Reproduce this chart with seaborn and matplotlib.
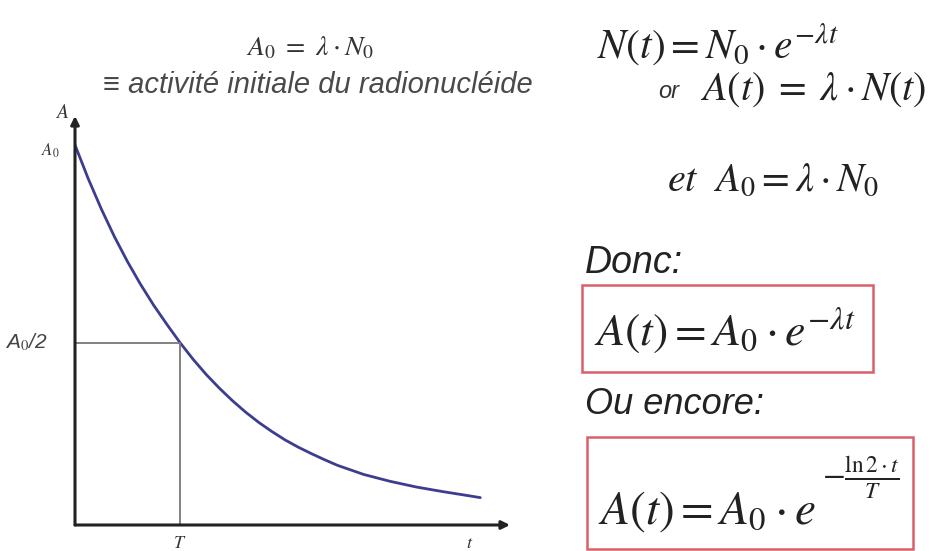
import matplotlib
matplotlib.use("Agg")
import matplotlib.pyplot as plt
from matplotlib.patches import Rectangle
import seaborn as sns

# decay curve (t in units of T, A in units of A0)
t_vals = [0, 0.125, 0.25, 0.375, 0.5, 0.625, 0.75, 0.875, 1.0, 1.125, 1.25, 1.375, 1.5,
          1.625, 1.75, 1.875, 2.0, 2.125, 2.25, 2.375, 2.5, 2.75, 3.0, 3.25, 3.5, 3.75, 3.86]
a_vals = [1.0, 0.912, 0.832, 0.759, 0.693, 0.633, 0.578, 0.528, 0.48, 0.436, 0.396, 0.36, 0.327,
          0.297, 0.27, 0.246, 0.224, 0.205, 0.188, 0.172, 0.157, 0.133, 0.115, 0.1, 0.088, 0.077, 0.072]
half_T = 1.0
half_A = 0.48

W, H = 942, 551

sns.set_style("white")
plt.rcParams['font.family'] = ['Liberation Sans', 'DejaVu Sans']
plt.rcParams['mathtext.fontset'] = 'stix'

fig = plt.figure(figsize=(W / 100, H / 100), dpi=100)
ax = fig.add_axes([75 / W, 26 / H, 435 / W, 409 / H])
sns.lineplot(x=t_vals, y=a_vals, ax=ax, color='#3d3d8f', lw=2.0)
ax.set_xlim(0, 435 / 105)
ax.set_ylim(0, 409 / 380)
ax.axis('off')

# half-life guide lines
ax.plot([0, half_T], [half_A, half_A], color='#777777', lw=1.3)
ax.plot([half_T, half_T], [0, half_A], color='#777777', lw=1.3)

# axes as arrows
arr = dict(arrowstyle='-|>', color='#222222', lw=2.2, mutation_scale=12, shrinkA=0, shrinkB=0)
ax.annotate('', xy=(1, 0), xytext=(0, 0), xycoords='axes fraction', arrowprops=arr)
ax.annotate('', xy=(0, 1), xytext=(0, 0), xycoords='axes fraction', arrowprops=arr)

ax.text(-0.12, 1.085, '$A$', fontsize=14, ha='center', va='center', color='#333', clip_on=False)
ax.text(-0.24, 0.985, '$A_0$', fontsize=12, ha='center', va='center', color='#333', clip_on=False)
ax.text(-0.46, half_A, 'A$_0$/2', fontsize=15, style='italic', ha='center', va='center',
        color='#444', clip_on=False)
ax.text(half_T, -0.05, '$T$', fontsize=13, ha='center', va='center', color='#333', clip_on=False)
ax.text(3.76, -0.05, '$t$', fontsize=13, ha='center', va='center', color='#333', clip_on=False)


def ftxt(px, py, s, **kw):
    fig.text(px / W, 1 - py / H, s, **kw)


ftxt(310, 48, r'$A_0\ =\ \lambda \cdot N_0$', ha='center', va='center', fontsize=20, color='#333')
ftxt(318, 85, '≡ activité initiale du radionucléide', ha='center', va='center',
     fontsize=21, style='italic', color='#4a4a4a')

# right side
ftxt(597, 45, r'$N(t) = N_0 \cdot e^{-\lambda t}$', va='center', fontsize=30, color='#222')
ftxt(658, 92, 'or', va='center', fontsize=17, style='italic', color='#333')
ftxt(700, 90, r'$A(t)\;=\;\lambda \cdot N(t)$', va='center', fontsize=29, color='#222')
ftxt(667, 180, r'$et\ \ A_0 = \lambda \cdot N_0$', va='center', fontsize=29, color='#222')
ftxt(585, 263, 'Donc:', va='center', fontsize=27, style='italic', color='#222')
ftxt(585, 405, 'Ou encore:', va='center', fontsize=26, style='italic', color='#222')

fig.patches.append(Rectangle((582 / W, 1 - 372 / H), 291 / W, 87 / H, transform=fig.transFigure,
                             fill=False, edgecolor='#d9606a', lw=1.8))
fig.patches.append(Rectangle((587 / W, 1 - 549 / H), 326 / W, 112 / H, transform=fig.transFigure,
                             fill=False, edgecolor='#d9606a', lw=1.8))
ftxt(594, 330, r'$A(t) = A_0 \cdot e^{-\lambda t}$', va='center', fontsize=33, color='#222')
ftxt(598, 512, r'$A(t) = A_0 \cdot e$', va='center', fontsize=34, color='#222')
ftxt(822, 478, r'$-\frac{\ln 2 \cdot t}{T}$', va='center', fontsize=24, color='#222')

fig.savefig('out.png', dpi=100, facecolor='white')
